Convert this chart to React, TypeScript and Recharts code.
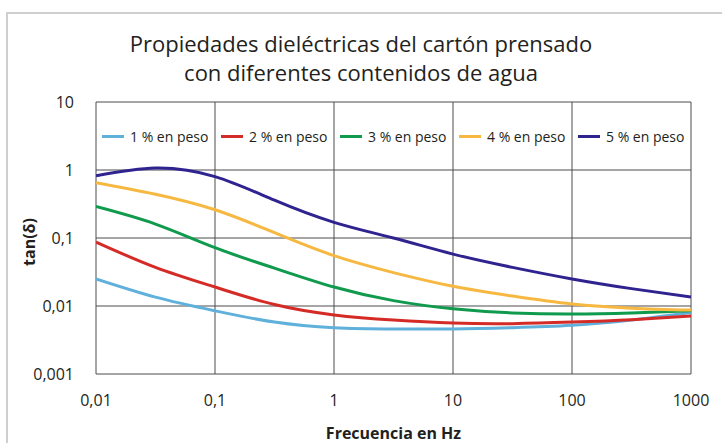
import { CartesianGrid, Line, LineChart, XAxis, YAxis } from "recharts"

const frequencies = [0.01, 0.0316, 0.1, 0.316, 1, 3.16, 10, 31.6, 100, 316, 1000]
const water1 = [0.025, 0.0135, 0.0085, 0.0058, 0.0048, 0.0046, 0.0046, 0.0048, 0.0052, 0.0062, 0.008]
const water2 = [0.087, 0.037, 0.019, 0.0105, 0.0074, 0.0062, 0.0056, 0.0055, 0.0058, 0.0063, 0.0071]
const water3 = [0.29, 0.16, 0.072, 0.036, 0.019, 0.012, 0.0091, 0.0079, 0.0076, 0.0079, 0.0085]
const water4 = [0.65, 0.44, 0.26, 0.12, 0.055, 0.031, 0.0195, 0.014, 0.0107, 0.0093, 0.0087]
const water5 = [0.82, 1.07, 0.8, 0.36, 0.17, 0.1, 0.058, 0.037, 0.025, 0.018, 0.0135]

const xTicks = [0.01, 0.1, 1, 10, 100, 1000]
const yTicks = [0.001, 0.01, 0.1, 1, 10]

const series = [
  { key: "w1", label: "1 % en peso", values: water1, color: "#5fb0da" },
  { key: "w2", label: "2 % en peso", values: water2, color: "#d52b27" },
  { key: "w3", label: "3 % en peso", values: water3, color: "#0f9a4d" },
  { key: "w4", label: "4 % en peso", values: water4, color: "#f6b841" },
  { key: "w5", label: "5 % en peso", values: water5, color: "#2f2390" },
]

const rows = frequencies.map((f, i) => ({
  f,
  ...Object.fromEntries(series.map((s) => [s.key, s.values[i]])),
}))

const font = "'Open Sans', 'Noto Sans', sans-serif"
const fmt = (v: number) => String(v).replace(".", ",")

export default function App() {
  return (
    <div
      style={{
        position: "absolute",
        left: 0,
        top: 0,
        width: 722,
        height: 443,
        background: "#fff",
        fontFamily: font,
        overflow: "hidden",
      }}
    >
      {/* frame */}
      <div
        style={{
          position: "absolute",
          left: 6,
          top: 12,
          width: 740,
          height: 460,
          borderLeft: "2px solid #cfcfcf",
          borderTop: "2px solid #cfcfcf",
        }}
      />
      <div
        style={{
          position: "absolute",
          left: 0,
          top: 29,
          width: 722,
          textAlign: "center",
          fontSize: 22,
          lineHeight: "29px",
          color: "#231f20",
        }}
      >
        Propiedades dieléctricas del cartón prensado
        <br />
        con diferentes contenidos de agua
      </div>

      <div style={{ position: "absolute", left: 0, top: 0 }}>
        <LineChart width={722} height={443} data={rows} margin={{ top: 102, right: 31, left: 36, bottom: 39 }}>
          <CartesianGrid stroke="#4d4d4d" strokeWidth={1} />
          <XAxis
            dataKey="f"
            type="number"
            scale="log"
            domain={[0.01, 1000]}
            ticks={xTicks}
            allowDataOverflow
            axisLine={false}
            tickLine={false}
            tickMargin={15}
            height={30}
            tickFormatter={fmt}
            tick={{ fill: "#231f20", fontSize: 16, fontFamily: font }}
          />
          <YAxis
            type="number"
            scale="log"
            domain={[0.001, 10]}
            ticks={yTicks}
            allowDataOverflow
            axisLine={false}
            tickLine={false}
            tickMargin={16}
            width={60}
            tickFormatter={fmt}
            tick={{ fill: "#231f20", fontSize: 16, fontFamily: font }}
          />
          {series.map((s) => (
            <Line
              key={s.key}
              type="natural"
              dataKey={s.key}
              stroke={s.color}
              strokeWidth={3}
              dot={false}
              isAnimationActive={false}
            />
          ))}
        </LineChart>
      </div>

      {/* legend */}
      <div style={{ position: "absolute", left: 96, top: 126, width: 595, height: 20, display: "flex" }}>
        {series.map((s) => (
          <div
            key={s.key}
            style={{ width: 119, display: "flex", alignItems: "center", paddingLeft: 6, boxSizing: "border-box" }}
          >
            <span style={{ width: 22, height: 3, background: s.color, marginRight: 6, flexShrink: 0 }} />
            <span style={{ fontSize: 14, color: "#231f20", whiteSpace: "nowrap" }}>{s.label}</span>
          </div>
        ))}
      </div>

      <div
        style={{
          position: "absolute",
          left: 96,
          top: 422,
          width: 595,
          textAlign: "center",
          fontSize: 16,
          lineHeight: "22px",
          fontWeight: 700,
          color: "#231f20",
        }}
      >
        Frecuencia en Hz
      </div>
      <div
        style={{
          position: "absolute",
          left: 29,
          top: 242,
          transform: "translate(-50%, -50%) rotate(-90deg)",
          fontSize: 16,
          fontWeight: 700,
          color: "#231f20",
          whiteSpace: "nowrap",
        }}
      >
        tan(δ)
      </div>
    </div>
  )
}
